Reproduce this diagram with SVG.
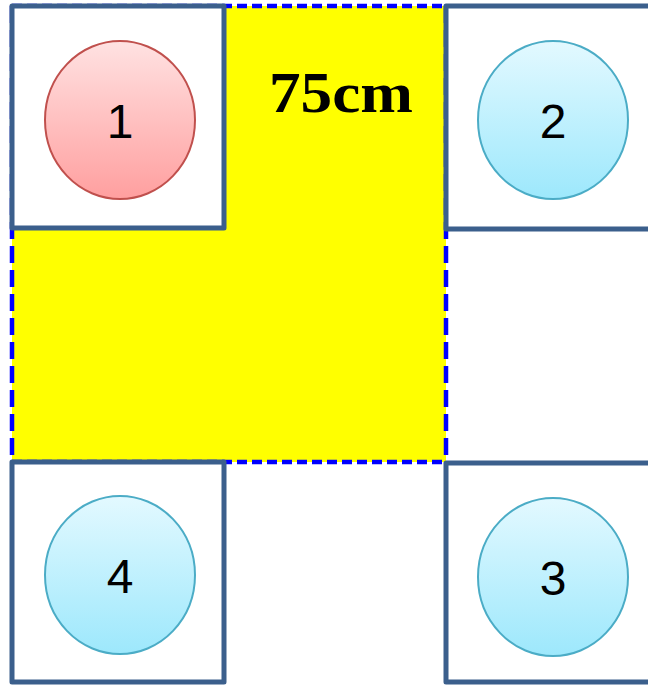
<svg xmlns="http://www.w3.org/2000/svg" width="648" height="685" viewBox="0 0 648 685">
<defs>
<linearGradient id="gRed" x1="0" y1="0" x2="0" y2="1">
<stop offset="0" stop-color="#FFE2E2"/>
<stop offset="1" stop-color="#FF9F9F"/>
</linearGradient>
<linearGradient id="gBlue" x1="0" y1="0" x2="0" y2="1">
<stop offset="0" stop-color="#E3F9FF"/>
<stop offset="1" stop-color="#9DE8FC"/>
</linearGradient>
<style>
.box{fill:#FFFFFF;stroke:#3B5F8C;stroke-width:5;stroke-linejoin:round}
.red{fill:url(#gRed);stroke:#C0504D;stroke-width:2}
.blue{fill:url(#gBlue);stroke:#4BACC6;stroke-width:2}
.num{font-family:"Liberation Sans",Arial,sans-serif;font-size:48px;fill:#000;text-anchor:middle}
.dash{fill:none;stroke:#0000FF;stroke-width:4.5}
</style>
</defs>
<rect width="648" height="685" fill="#FFFFFF"/>
<g id="area">
<rect x="12" y="6" width="434" height="456" fill="#FFFF00"/>
<line class="dash" x1="12" y1="6" x2="446" y2="6" stroke-dasharray="10,5"/>
<line class="dash" x1="446" y1="6" x2="446" y2="462" stroke-dasharray="17,7"/>
<line class="dash" x1="12" y1="462" x2="446" y2="462" stroke-dasharray="10,5"/>
<line class="dash" x1="12" y1="6" x2="12" y2="462" stroke-dasharray="17,7"/>
<text x="341" y="112" font-family="'Liberation Serif','Times New Roman',serif" font-weight="bold" font-size="58" textLength="144" lengthAdjust="spacingAndGlyphs" text-anchor="middle">75cm</text>
</g>
<g id="node1">
<rect class="box" x="12" y="6" width="212" height="222"/>
<ellipse class="red" cx="120" cy="120" rx="75" ry="79"/>
<text class="num" x="120" y="138">1</text>
</g>
<g id="node2">
<rect class="box" x="446" y="6" width="220" height="223"/>
<ellipse class="blue" cx="553" cy="120" rx="75" ry="79"/>
<text class="num" x="553" y="138">2</text>
</g>
<g id="node4">
<rect class="box" x="12" y="462" width="212" height="220"/>
<ellipse class="blue" cx="120" cy="575" rx="75" ry="79"/>
<text class="num" x="120" y="593">4</text>
</g>
<g id="node3">
<rect class="box" x="446" y="463" width="220" height="219"/>
<ellipse class="blue" cx="553" cy="577" rx="75" ry="79"/>
<text class="num" x="553" y="595">3</text>
</g>
<g id="connectors"/>
</svg>
